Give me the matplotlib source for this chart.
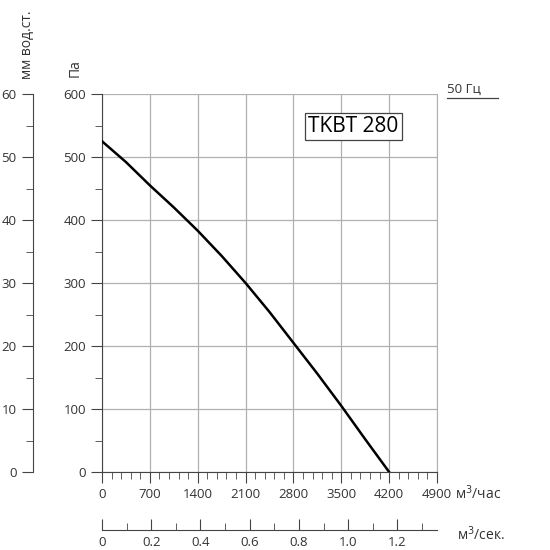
import matplotlib
matplotlib.use("Agg")
import matplotlib.pyplot as plt
from matplotlib.ticker import MultipleLocator

plt.rcParams['font.family'] = ['Open Sans', 'DejaVu Sans']

flow_m3h = [0, 350, 700, 1050, 1400, 1750, 2100, 2450, 2800, 3150, 3500, 3850, 4200]
pressure_pa = [525, 492, 455, 420, 383, 343, 300, 254, 205, 156, 105, 52, 0]
x_ticks = [0, 700, 1400, 2100, 2800, 3500, 4200, 4900]
pa_ticks = [0, 100, 200, 300, 400, 500, 600]
mm_ticks = [0, 10, 20, 30, 40, 50, 60]
sec_ticks = [0, 0.2, 0.4, 0.6, 0.8, 1.0, 1.2]
model = "TKBT 280"

fig = plt.figure(figsize=(5.5, 5.5), dpi=100)
pos = [102/550, 78/550, 335/550, 378/550]
ax = fig.add_axes(pos)
ax.plot(flow_m3h, pressure_pa, color='black', lw=1.8, zorder=3)
ax.set_xlim(0, 4900)
ax.set_ylim(0, 600)
ax.set_xticks(x_ticks)
ax.set_yticks(pa_ticks)
ax.xaxis.set_minor_locator(MultipleLocator(140))
ax.yaxis.set_minor_locator(MultipleLocator(50))
ax.grid(True, which='major', color='#b0b0b0', lw=0.9)
ax.spines['top'].set_visible(False)
ax.spines['right'].set_color('#b0b0b0')
for s in ['left', 'bottom']:
    ax.spines[s].set_color('#444444')
ax.tick_params(which='both', direction='out', color='#444444', labelsize=9.5, labelcolor='#333333')
ax.tick_params(which='major', length=8)
ax.tick_params(which='minor', length=5)
ax.text(0.75, 0.915, model, transform=ax.transAxes, fontsize=15, ha='center', va='center',
        bbox=dict(boxstyle='square,pad=0.15', fc='white', ec='#444444', lw=0.9), zorder=5)

# mm axis
ax2 = fig.add_axes(pos, frame_on=True)
ax2.patch.set_visible(False)
for s in ['top', 'right', 'bottom']:
    ax2.spines[s].set_visible(False)
ax2.spines['left'].set_position(('outward', 50))
ax2.spines['left'].set_color('#444444')
ax2.set_ylim(0, 60)
ax2.set_yticks(mm_ticks)
ax2.yaxis.set_minor_locator(MultipleLocator(5))
ax2.set_xticks([])
ax2.tick_params(axis='y', which='major', length=8, color='#444444', labelsize=9.5, labelcolor='#333333')
ax2.tick_params(axis='y', which='minor', length=5, color='#444444')

# m3/sec axis
ax3 = fig.add_axes(pos)
ax3.patch.set_visible(False)
for s in ['top', 'right', 'left']:
    ax3.spines[s].set_visible(False)
ax3.spines['bottom'].set_position(('outward', 42))
ax3.spines['bottom'].set_color('#444444')
ax3.set_xlim(0, 4900/3600)
ax3.set_xticks(sec_ticks)
ax3.set_xticklabels([f"{v:.1f}" if v != 0 else "0" for v in sec_ticks])
ax3.xaxis.set_minor_locator(MultipleLocator(0.1))
ax3.set_yticks([])
ax3.tick_params(axis='x', which='both', direction='in', color='#444444', labelsize=9.5, labelcolor='#333333')
ax3.tick_params(axis='x', which='major', length=8, pad=4)
ax3.tick_params(axis='x', which='minor', length=5)

fig.text(455/550, 1-494/550, "м$^3$/час", fontsize=10, va='center', color='#333333')
fig.text(457/550, 1-535/550, "м$^3$/сек.", fontsize=10, va='center', color='#333333')
fig.text(27/550, 1-45/550, "мм вод.ст.", rotation=90, fontsize=10, ha='center', va='center', color='#333333')
fig.text(75/550, 1-68/550, "Па", rotation=90, fontsize=10, ha='center', va='center', color='#333333')
fig.text(447/550, 1-89/550, "50 Гц", fontsize=9.5, va='center', color='#333333')
fig.add_artist(plt.Line2D([447/550, 498/550], [1-98/550, 1-98/550], color='#444444', lw=0.9))

fig.savefig("out.png", dpi=100)
